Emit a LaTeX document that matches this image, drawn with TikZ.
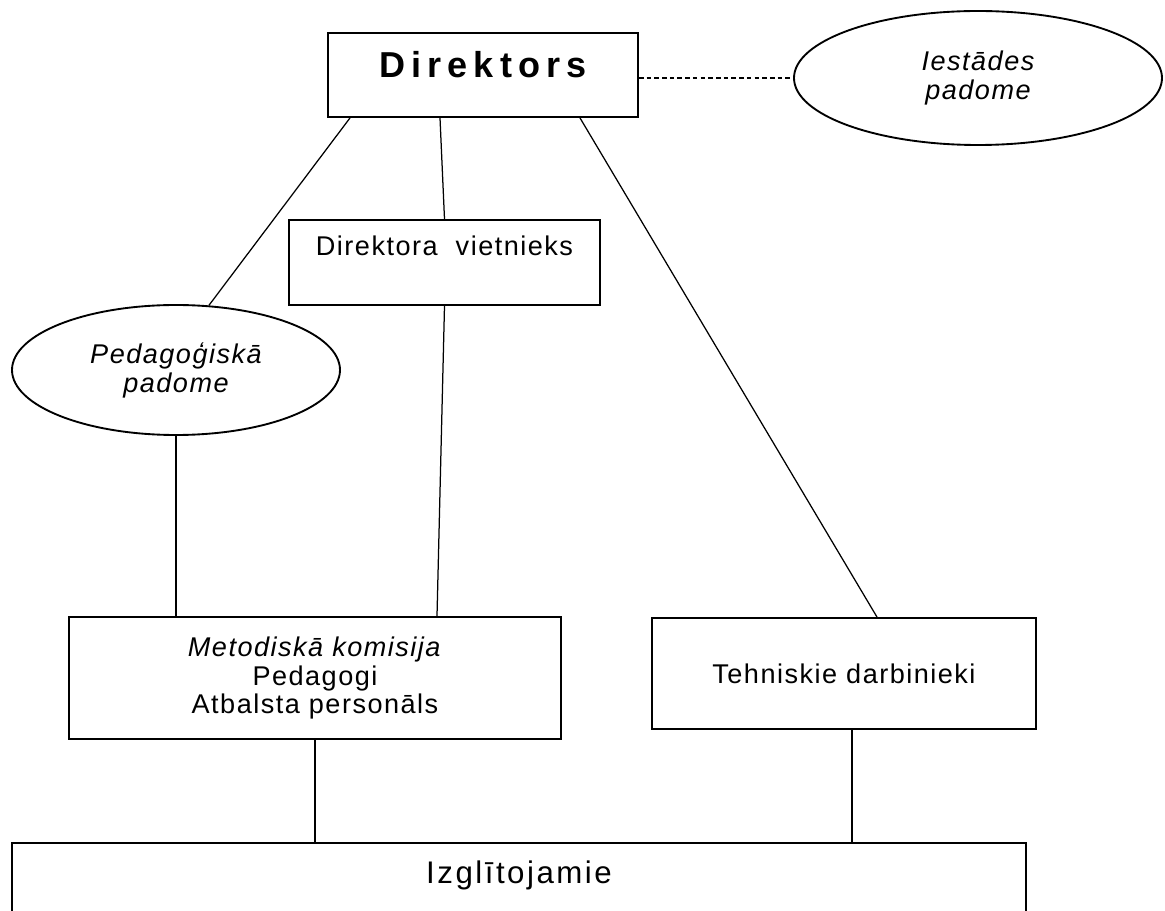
\documentclass[tikz,border=0pt]{standalone}
\usepackage{fontspec}
\setmainfont{Liberation Sans}[LetterSpace=5.5]
\usetikzlibrary{shapes.geometric}
\newcommand\pxu{0.48pt}
\tikzstyle{box} = [rectangle, draw=black, line width=0.9pt, inner sep=0pt, text centered]
\tikzstyle{oval} = [ellipse, draw=black, line width=0.9pt, inner sep=0pt, align=center, font=\fontsize{13}{13.9}\selectfont\itshape]
\tikzstyle{line} = [line width=0.6pt]
\begin{document}
\begin{tikzpicture}[x=\pxu, y=-\pxu, font=\fontsize{13}{13.9}\selectfont]

\useasboundingbox (0,0) rectangle (1165,911);

\node (dir) [box, minimum width=310*\pxu, minimum height=84*\pxu, text height=12.48pt, text depth=9.6pt,
  font=\fontsize{17.3}{20}\selectfont\bfseries\addfontfeature{LetterSpace=17}] at (483,75) {Direktors};
\node (ies) [oval, minimum width=368*\pxu, minimum height=134*\pxu] at (978,78) {Iestādes\\padome};

\node (dv) [box, minimum width=311*\pxu, minimum height=85*\pxu, text height=9.12pt, text depth=15.36pt] at (444.5,262.5) {Direktora \ vietnieks};
\node (ped) [oval, minimum width=328*\pxu, minimum height=130*\pxu] at (176,370) {Pedagoģiskā\\padome};

\node (met) [box, align=center, minimum width=492*\pxu, minimum height=122*\pxu] at (315,678) {\textit{Metodiskā komisija}\\Pedagogi\\Atbalsta personāls};
\node (tech) [box, minimum width=384*\pxu, minimum height=111*\pxu] at (844,673.5) {Tehniskie darbinieki};

\node (izgl) [box, anchor=north, minimum width=1014*\pxu, minimum height=120*\pxu, text height=10.56pt, text depth=28.8pt,
  font=\fontsize{15}{18}\selectfont\addfontfeature{LetterSpace=8}] at (519,842) {Izglītojamie};

\draw [line, dash pattern=on 2.2pt off 1.5pt] (ies.west -| dir.east) -- (ies.west);

\draw [line] ([xshift=-133*\pxu]dir.south) -- (ped.63);
\draw [line] ([xshift=-43*\pxu]dir.south) -- (dv.north);
\draw [line] ([xshift=97*\pxu]dir.south) -- ([xshift=33*\pxu]tech.north);

\draw [line] (dv.south) -- ([xshift=122*\pxu]met.north);
\draw [line] (ped.south) -- (ped.south |- met.north);

\draw [line] (met.south) -- (met.south |- izgl.north);
\draw [line] ([xshift=8*\pxu]tech.south) -- ([xshift=8*\pxu]tech.south |- izgl.north);

\end{tikzpicture}
\end{document}
